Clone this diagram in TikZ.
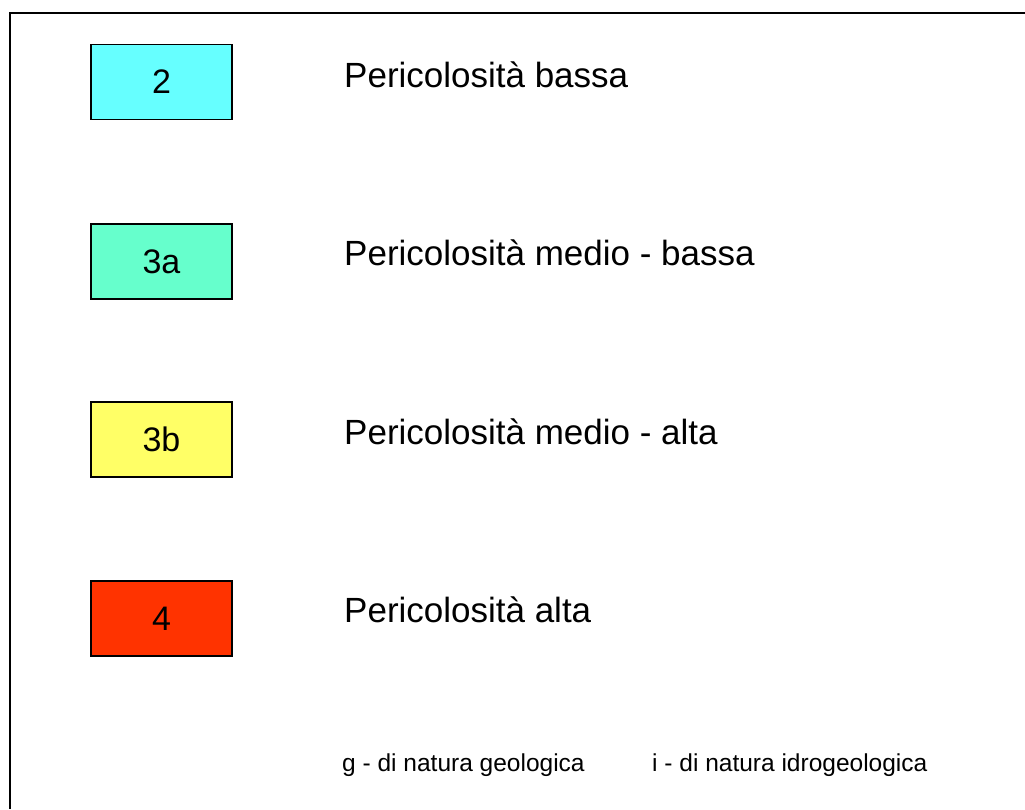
\documentclass[tikz,border=0pt]{standalone}
\usepackage{fontspec}
\setmainfont{Liberation Sans}
\usepackage{xcolor}
\usetikzlibrary{positioning}
\definecolor{hazlow}{HTML}{66FFFF}
\definecolor{hazmidlow}{HTML}{66FFCC}
\definecolor{hazmidhigh}{HTML}{FFFF66}
\definecolor{hazhigh}{HTML}{FF3300}

\begin{document}
\begin{tikzpicture}[x=1pt,y=-1pt,
    classbox/.style={draw, line width=1.8pt, minimum width=141pt, minimum height=75pt,
      inner sep=0pt, font=\fontsize{34}{40}\selectfont},
    classlabel/.style={anchor=base west, inner sep=0pt, font=\fontsize{35}{42}\selectfont},
    notelabel/.style={anchor=base west, inner sep=0pt, font=\fontsize{24.5}{29}\selectfont}]
      \useasboundingbox (0,0) rectangle (1025,809);

      % frame, only top and left edge
      \draw [line width=2pt] (1025,12.5) -- (9.5,12.5) -- (9.5,809);

      \node [classbox, fill=hazlow] (c2) at (161.5,82) {2};
      \node [classbox, fill=hazmidlow] (c3a) at (161.5,261.5) {3a};
      \node [classbox, fill=hazmidhigh] (c3b) at (161.5,439.5) {3b};
      \node [classbox, fill=hazhigh] (c4) at (161.5,618.5) {4};

      \node [classlabel] (t2) at (344,87) {Pericolosità bassa};
      \node [classlabel] (t3a) at (344,265) {Pericolosità medio - bassa};
      \node [classlabel] (t3b) at (344,444) {Pericolosità medio - alta};
      \node [classlabel] (t4) at (344,622) {Pericolosità alta};

      % notes
      \node [notelabel] (ng) at (342,771) {g - di natura geologica};
      \node [notelabel] (ni) at (652,771) {i - di natura idrogeologica};
    \end{tikzpicture}
\end{document}
